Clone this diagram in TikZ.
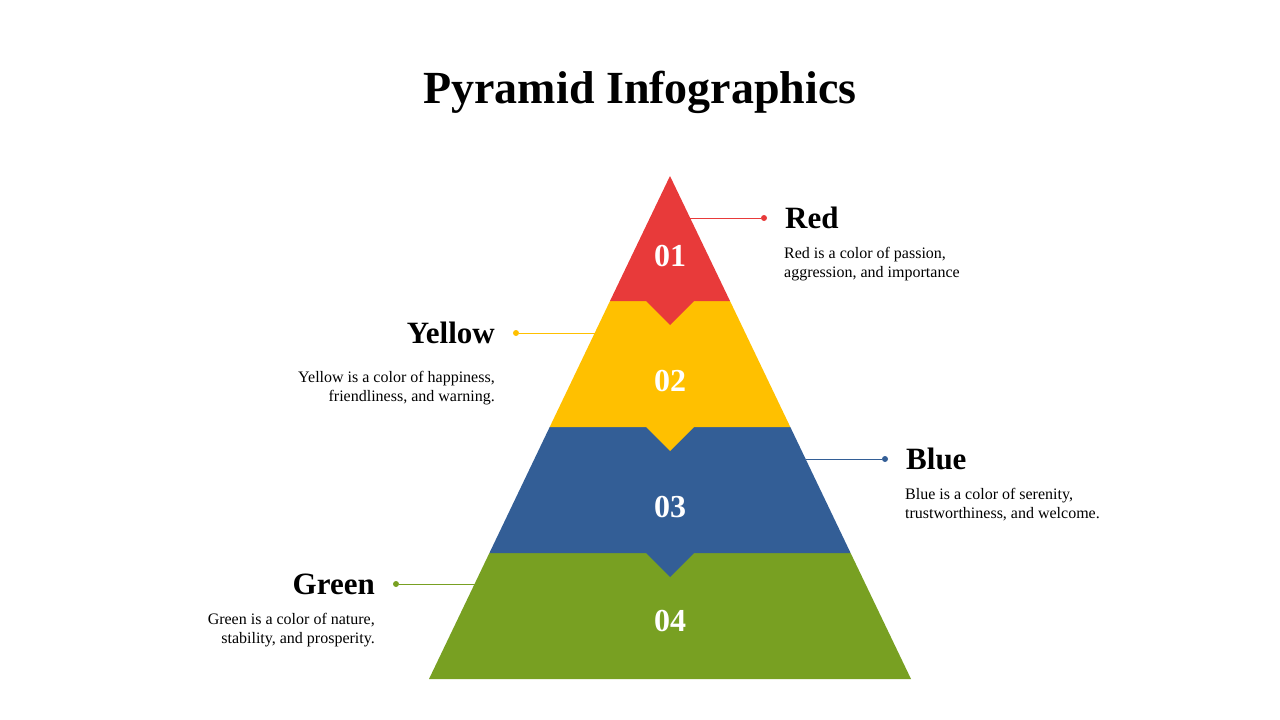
\documentclass[tikz,border=0pt]{standalone}
\usepackage{fontspec}
\setmainfont{Liberation Serif}
\definecolor{cred}{HTML}{E83A3A}
\definecolor{cyel}{HTML}{FFC000}
\definecolor{cblue}{HTML}{335E96}
\definecolor{cgreen}{HTML}{78A022}
\begin{document}
\begin{tikzpicture}[x=1pt,y=-1pt,
  head/.style={font=\fontsize{31}{36}\selectfont\bfseries,inner sep=0pt},
  desc/.style={font=\fontsize{16}{19.5}\selectfont,inner sep=0pt},
  num/.style={font=\fontsize{32}{36}\selectfont\bfseries,text=white},
  dot/.style={circle,inner sep=0pt,minimum size=6pt}]
\useasboundingbox (0,0) rectangle (1280,720);
\node[font=\fontsize{46}{52}\selectfont\bfseries] (title) at (640,92) {Pyramid Infographics};
% bands bottom to top
\fill[cgreen] (489.4,553) -- (850.6,553) -- (911,679) -- (429,679) -- cycle;
\fill[cblue] (549.7,427) -- (790.3,427) -- (850.6,553) -- (694,553) -- (670,577) -- (646,553) -- (489.4,553) -- cycle;
\fill[cyel] (610,301) -- (730,301) -- (790.3,427) -- (694,427) -- (670,451) -- (646,427) -- (549.7,427) -- cycle;
\fill[cred] (670,176) -- (730,301) -- (694,301) -- (670,325) -- (646,301) -- (610,301) -- cycle;
\node[num] (n1) at (670,256) {01};
\node[num] (n2) at (670,381) {02};
\node[num] (n3) at (670,507) {03};
\node[num] (n4) at (670,621) {04};
% connectors
\coordinate (r1) at (690,218); \node[dot,fill=cred] (rd) at (764,218) {};
\draw[cred,line width=0.6pt] (r1) -- (rd);
\coordinate (y1) at (596,333); \node[dot,fill=cyel] (yd) at (516,333) {};
\draw[cyel,line width=0.6pt] (y1) -- (yd);
\coordinate (b1) at (806,459); \node[dot,fill=cblue] (bd) at (885,459) {};
\draw[cblue,line width=0.6pt] (b1) -- (bd);
\coordinate (g1) at (475,584); \node[dot,fill=cgreen] (gd) at (396,584) {};
\draw[cgreen,line width=0.6pt] (g1) -- (gd);
% labels
\node[head,anchor=west] (rh) at (785,218) {Red};
\node[desc,anchor=north west,align=left] (rt) at (784,247) {Red is a color of passion,\\aggression, and importance};
\node[head,anchor=east] (yh) at (495,333) {Yellow};
\node[desc,anchor=north east,align=right] (yt) at (495,371) {Yellow is a color of happiness,\\friendliness, and warning.};
\node[head,anchor=west] (bh) at (906,459) {Blue};
\node[desc,anchor=north west,align=left] (bt) at (905,488) {Blue is a color of serenity,\\trustworthiness, and welcome.};
\node[head,anchor=east] (gh) at (375,584) {Green};
\node[desc,anchor=north east,align=right] (gt) at (375,613) {Green is a color of nature,\\stability, and prosperity.};
\end{tikzpicture}
\end{document}
